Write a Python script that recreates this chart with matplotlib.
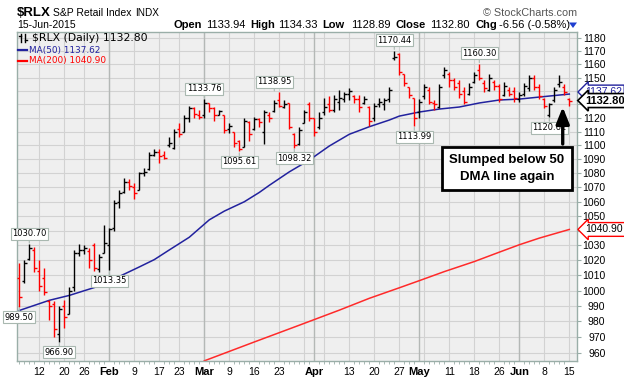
import numpy as np
import pandas as pd
import matplotlib
matplotlib.use('Agg')
import matplotlib.pyplot as plt
from matplotlib.lines import Line2D
from matplotlib.patches import Polygon
from matplotlib.ticker import FixedLocator, NullLocator

plt.rcParams['font.family'] = ['Liberation Sans', 'DejaVu Sans']

# trading days shown (US market holidays skipped)
holidays = ['2015-01-19', '2015-02-16', '2015-04-03', '2015-05-25']
dates = pd.bdate_range('2015-01-06', '2015-06-15', freq='C', holidays=holidays)

opens = [1008, 1006, 1021, 1027, 1013, 1008, 993, 991, 972, 990,
         985, 1002, 1025, 1027, 1026, 1030, 1014, 1025, 1030, 1042,
         1060, 1067, 1074, 1070, 1068, 1080, 1083, 1093, 1095, 1093,
         1100, 1098, 1112, 1110, 1120, 1127, 1122, 1122, 1131, 1127,
         1122, 1122, 1112, 1110, 1103, 1099, 1117, 1112, 1119, 1110,
         1122, 1125, 1133, 1128, 1131, 1108, 1101, 1116, 1130, 1120,
         1113, 1124, 1130, 1126, 1132, 1134, 1138, 1136, 1134, 1131,
         1128, 1120, 1130, 1130, 1134, 1165, 1168, 1153, 1143, 1135,
         1124, 1136, 1141, 1131, 1128, 1152, 1153, 1148, 1146, 1140,
         1138, 1147, 1156, 1146, 1141, 1147, 1144, 1137, 1141, 1140,
         1134, 1138, 1142, 1150, 1143, 1134, 1122, 1133, 1145, 1143,
         1133.94]
highs = [1018, 1020, 1030.7, 1029, 1020, 1015, 994, 993, 990, 994,
         1002, 1027, 1031, 1030, 1028, 1032, 1024, 1044, 1042, 1061,
         1068, 1077, 1076, 1073, 1081, 1084, 1095, 1097, 1097, 1096,
         1106, 1112, 1116, 1122, 1129, 1128, 1126, 1133.76, 1131, 1128,
         1126, 1122, 1116, 1110, 1104, 1120, 1118, 1121, 1120, 1126,
         1124, 1133, 1138.95, 1133, 1131, 1109, 1113, 1126, 1132, 1120,
         1124, 1135, 1136, 1137, 1141, 1139, 1142, 1137, 1137, 1136,
         1129, 1131, 1135, 1135, 1143, 1170.44, 1169, 1153, 1143, 1135,
         1134, 1145, 1143, 1133, 1145, 1158, 1154, 1150, 1148, 1143,
         1146, 1154, 1160.3, 1148, 1153, 1148, 1145, 1147, 1143, 1143,
         1139, 1146, 1152, 1152, 1145, 1135, 1131, 1143, 1152, 1145,
         1134.33]
lows = [989.5, 1005, 1020, 1012, 1000, 997, 981, 970, 966.9, 976,
        985, 1000, 1023, 1024, 1015, 1013, 1012, 1025, 1013.35, 1040,
        1056, 1066, 1068, 1062, 1068, 1078, 1082, 1092, 1087, 1090,
        1099, 1097, 1106, 1110, 1117, 1120, 1119, 1120, 1124, 1118,
        1122, 1109, 1109, 1099, 1095.61, 1099, 1103, 1111, 1113, 1101,
        1117, 1124, 1128, 1127, 1112, 1098.32, 1100, 1116, 1118, 1107,
        1112, 1122, 1124, 1124, 1126, 1132, 1133, 1131, 1124, 1130,
        1114, 1118, 1128, 1126, 1132, 1163, 1152, 1144, 1135, 1113.99,
        1120, 1134, 1130, 1126, 1127, 1150, 1143, 1141, 1135, 1130,
        1137, 1146, 1148, 1139, 1140, 1141, 1132, 1136, 1136, 1132,
        1132, 1136, 1140, 1141, 1134, 1127, 1120.61, 1132, 1143, 1137,
        1128.89]
closes = [996, 1018, 1028, 1015, 1003, 999, 990, 975, 988, 983,
          1000, 1025, 1027, 1028, 1020, 1015, 1022, 1032, 1041, 1059,
          1066, 1074, 1071, 1066, 1080, 1081, 1093, 1095, 1092, 1091,
          1102, 1110, 1108, 1120, 1127, 1123, 1121, 1131, 1127, 1122,
          1125, 1111, 1114, 1102, 1097, 1118, 1108, 1119, 1117, 1124,
          1120, 1131, 1129, 1130, 1113, 1100, 1111, 1124, 1120, 1110,
          1120, 1128, 1126, 1134, 1135, 1138, 1140, 1134, 1128, 1134,
          1118, 1129, 1132, 1133, 1141, 1166, 1154, 1146, 1137, 1120,
          1132, 1143, 1132, 1130, 1143, 1156, 1148, 1143, 1138, 1132,
          1143, 1152, 1150, 1142, 1150, 1144, 1134, 1144, 1138, 1135,
          1137, 1144, 1150, 1143, 1136, 1129, 1130, 1141, 1147, 1139.36,
          1132.8]
prev_close_first = 1010

# moving averages at weekly points
ma50_dates = ['2015-01-06', '2015-01-14', '2015-01-21', '2015-01-29', '2015-02-10',
              '2015-02-13', '2015-02-19', '2015-02-25', '2015-03-03', '2015-03-06',
              '2015-03-12', '2015-03-17', '2015-03-19', '2015-03-25', '2015-03-31',
              '2015-04-07', '2015-04-13', '2015-04-17', '2015-04-23', '2015-04-27',
              '2015-05-01', '2015-05-07', '2015-05-13', '2015-05-19', '2015-05-26',
              '2015-06-01', '2015-06-05', '2015-06-11', '2015-06-15']
ma50_vals = [987, 993.6, 996.8, 1003, 1015.6, 1020.5, 1027, 1035.6, 1047.5, 1053.5,
             1060, 1066.5, 1071.5, 1081, 1089.4, 1099.5, 1108, 1113.5, 1118.4, 1121.3,
             1124.3, 1126.5, 1128, 1131, 1133.2, 1133.9, 1135.4, 1136.9, 1137.62]
ma200_dates = ['2015-03-02', '2015-03-16', '2015-03-27', '2015-04-09', '2015-04-17',
               '2015-04-27', '2015-05-01', '2015-05-08', '2015-05-18', '2015-05-26',
               '2015-06-01', '2015-06-05', '2015-06-15']
ma200_vals = [954.9, 966.8, 977.5, 987.2, 994.9, 1001.8, 1006.5, 1012.5, 1019.2,
              1025.5, 1030.5, 1035, 1040.9]

# labelled highs / lows
note_dates = ['2015-01-06', '2015-01-08', '2015-01-16', '2015-02-02', '2015-03-02',
              '2015-03-11', '2015-03-20', '2015-03-26', '2015-04-24', '2015-04-30',
              '2015-05-19', '2015-06-09']
note_vals = [989.50, 1030.70, 966.90, 1013.35, 1133.76, 1095.61, 1138.95, 1098.32,
             1170.44, 1113.99, 1160.30, 1120.61]
note_side = ['below', 'above', 'below', 'below', 'above', 'below', 'above', 'below',
             'above', 'below', 'above', 'below']

tick_dates = ['2015-01-12', '2015-01-20', '2015-01-26', '2015-02-02', '2015-02-09',
              '2015-02-17', '2015-02-23', '2015-03-02', '2015-03-09', '2015-03-16',
              '2015-03-23', '2015-04-01', '2015-04-13', '2015-04-20', '2015-04-27',
              '2015-05-01', '2015-05-11', '2015-05-18', '2015-05-26', '2015-06-01',
              '2015-06-08', '2015-06-15']
tick_labels = ['12', '20', '26', 'Feb', '9', '17', '23', 'Mar', '9', '16', '23', 'Apr',
               '13', '20', '27', 'May', '11', '18', '26', 'Jun', '8', '15']
y_ticks = list(range(960, 1190, 10))
# axis labels hidden under the price tags
y_hidden = [1040, 1130, 1140]

RED = '#ff0000'
NAVY = '#22229e'
MA200_RED = '#ff2a2a'
FRAME = '#9aaea8'


def pos(d):
    return dates.get_loc(pd.Timestamp(d))


W, H = 624, 380
fig = plt.figure(figsize=(W / 100, H / 100), dpi=100)
L, R, B, T = 17, 577, 361, 32.3
ax = fig.add_axes([L / W, 1 - B / H, (R - L) / W, (B - T) / H])
ax.set_facecolor('#efefef')
ax.set_yscale('log')
ax.set_ylim(954.8, 1184.7)
ax.set_xlim(-0.46, 111.54)

x = np.arange(len(dates))

# grid
for v in y_ticks:
    ax.axhline(v, color='#d2d2d2', lw=0.8, zorder=0)
week_start = [i for i in range(1, len(dates)) if dates[i].weekday() < dates[i - 1].weekday()]
month_start = [i for i in range(1, len(dates)) if dates[i].month != dates[i - 1].month]
for i in week_start:
    ax.axvline(i, color='#d2d2d2', lw=0.8, zorder=0)
for i in month_start:
    ax.axvline(i, color='#b4b8b6', lw=1.0, zorder=0)

# moving averages
ax.plot([pos(d) for d in ma50_dates], ma50_vals, color=NAVY, lw=1.1, zorder=2)
ax.plot([pos(d) for d in ma200_dates], ma200_vals, color=MA200_RED, lw=1.1, zorder=2)

# OHLC bars, coloured by close vs previous close
prev = np.r_[prev_close_first, closes[:-1]]
cols = np.where(np.array(closes) < prev, RED, 'black')
ax.vlines(x, lows, highs, colors=cols, lw=1.0, zorder=3)
ax.hlines(opens, x - 0.45, x, colors=cols, lw=1.0, zorder=3)
ax.hlines(closes, x, x + 0.45, colors=cols, lw=1.0, zorder=3)

# high / low tags
for d, v, s in zip(note_dates, note_vals, note_side):
    dy = 7.6 if s == 'above' else -7.6
    ax.annotate(f'{v:.2f}', xy=(pos(d), v), xytext=(0, dy), textcoords='offset points',
                ha='center', va='center', fontsize=6, family='DejaVu Sans', zorder=5,
                bbox=dict(boxstyle='square,pad=0.18', fc='white', ec='#a9b8b0', lw=0.8),
                arrowprops=dict(arrowstyle='-', color='#a9b8b0', lw=0.8,
                                shrinkA=0, shrinkB=1))

# axes styling
for sp in ax.spines.values():
    sp.set_color(FRAME)
    sp.set_linewidth(1.0)
ax.yaxis.tick_right()
ax.yaxis.set_major_locator(FixedLocator(y_ticks))
ax.yaxis.set_minor_locator(NullLocator())
ax.set_yticklabels(['' if v in y_hidden else str(v) for v in y_ticks])
ax.tick_params(axis='y', which='major', length=3, width=0.8, color=FRAME,
               labelsize=7.5, pad=17.5)
for lbl in ax.get_yticklabels():
    lbl.set_horizontalalignment('right')

ax.set_xticks([pos(d) for d in tick_dates])
ax.set_xticklabels(tick_labels)
ax.set_xticks(x, minor=True)
ax.tick_params(axis='x', which='major', length=0, labelsize=7.5, pad=4)
ax.tick_params(axis='x', which='minor', length=2, width=0.6, color=FRAME)
for lbl in ax.get_xticklabels():
    if not lbl.get_text().isdigit():
        lbl.set_fontweight('bold')
        lbl.set_fontsize(8)

# price tags on right axis
ytr = ax.get_yaxis_transform()
ax.annotate('1137.62', xy=(1.0, ma50_vals[-1]), xycoords=ytr, xytext=(6, 1.5),
            textcoords='offset points', ha='left', va='center', fontsize=7.5,
            color=NAVY, annotation_clip=False, zorder=6,
            bbox=dict(boxstyle='larrow,pad=0.18', fc='white', ec=NAVY, lw=1))
ax.annotate('1132.80', xy=(1.0, closes[-1]), xycoords=ytr, xytext=(6, 0),
            textcoords='offset points', ha='left', va='center', fontsize=8,
            fontweight='bold', annotation_clip=False, zorder=7,
            bbox=dict(boxstyle='larrow,pad=0.18', fc='white', ec='black', lw=1.2))
ax.annotate('1040.90', xy=(1.0, ma200_vals[-1]), xycoords=ytr, xytext=(6, 0),
            textcoords='offset points', ha='left', va='center', fontsize=7.5,
            annotation_clip=False, zorder=6,
            bbox=dict(boxstyle='larrow,pad=0.18', fc='white', ec=RED, lw=1))

# callout
ax.text(0.875, 0.5857, 'Slumped below 50\nDMA line again', transform=ax.transAxes,
        ha='center', va='center', fontsize=9.5, fontweight='bold', linespacing=1.55,
        zorder=8, bbox=dict(boxstyle='square,pad=0.55', fc='white', ec='black', lw=2))
ax.annotate('', xy=(0.9745, 0.7727), xycoords='axes fraction',
            xytext=(0.9745, 0.6602), textcoords='axes fraction', zorder=8,
            arrowprops=dict(arrowstyle='-|>,head_width=0.2,head_length=0.5',
                            mutation_scale=20, lw=2.4, color='black',
                            shrinkA=0, shrinkB=0))


# header texts (pixel positions)
def px(xp, yp):
    return xp / W, 1 - yp / H


fig.text(*px(17, 12.5), '$RLX', fontsize=9.5, fontweight='bold', va='center')
fig.text(*px(53, 13), 'S&P Retail Index', fontsize=7.5, va='center')
fig.text(*px(135, 13), 'INDX', fontsize=7.2, va='center')
fig.text(*px(17, 25.5), '15-Jun-2015', fontsize=7.5, va='center')
fig.text(*px(577, 12.5), '\u00a9 StockCharts.com', fontsize=7.8, color='#555555',
         ha='right', va='center')
head = [(174, 'Open', True), (205.7, '1133.94', False), (250.7, 'High', True),
        (277.7, '1134.33', False), (322.7, 'Low', True), (350.7, '1128.89', False),
        (395, 'Close', True), (430, '1132.80', False), (475, 'Chg', True),
        (499, '-6.56 (-0.58%)', False)]
for xp, s, b in head:
    fig.text(*px(xp, 25.5), s, fontsize=8, fontweight='bold' if b else 'normal',
             va='center')
fig.patches.append(Polygon([px(569, 22.5), px(577, 22.5), px(573, 28)], closed=True,
                           fc='#1f3fd0', ec='none', transform=fig.transFigure))

# in-chart legend
fig.text(*px(32, 38), '$RLX (Daily) 1132.80', fontsize=7.8, family='DejaVu Sans',
         va='center')
for xx in (21, 25):
    fig.lines.append(Line2D([xx / W, xx / W], [1 - 34 / H, 1 - 42 / H], color='black',
                            lw=1, transform=fig.transFigure))
fig.lines.append(Line2D([19 / W, 21 / W], [1 - 36 / H, 1 - 36 / H], color='black', lw=1,
                        transform=fig.transFigure))
fig.lines.append(Line2D([25 / W, 27 / W], [1 - 40 / H, 1 - 40 / H], color='black', lw=1,
                        transform=fig.transFigure))
fig.lines.append(Line2D([17.5 / W, 27 / W], [1 - 50 / H, 1 - 50 / H], color=NAVY, lw=1.6,
                        transform=fig.transFigure))
fig.text(*px(29, 50), 'MA(50) 1137.62', fontsize=6.4, family='DejaVu Sans', color=NAVY,
         va='center')
fig.lines.append(Line2D([17.5 / W, 27 / W], [1 - 60.7 / H, 1 - 60.7 / H], color=RED,
                        lw=1.6, transform=fig.transFigure))
fig.text(*px(29, 60.7), 'MA(200) 1040.90', fontsize=6.4, family='DejaVu Sans', color=RED,
         va='center')

fig.savefig('out.png', dpi=100)
